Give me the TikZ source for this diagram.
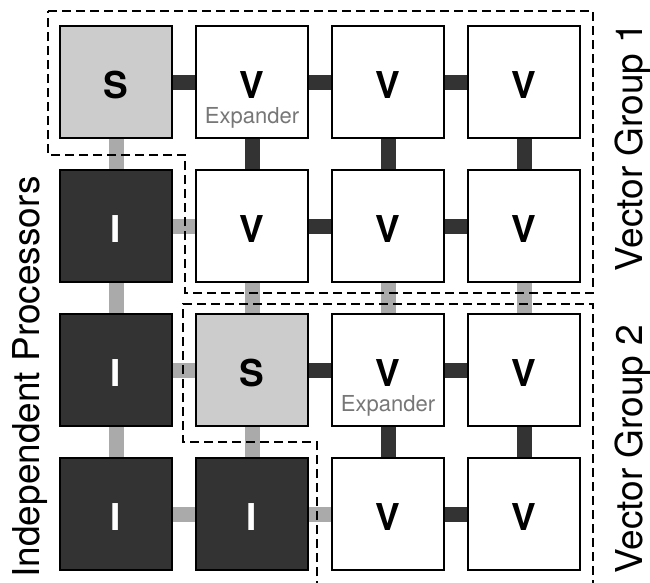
\documentclass[tikz,border=0pt]{standalone}
\usepackage{fontspec}
\setmainfont{TeX Gyre Heros}
\definecolor{darkbox}{HTML}{333333}
\definecolor{lightbox}{HTML}{CCCCCC}
\definecolor{linkgray}{HTML}{AAAAAA}
\definecolor{expgray}{HTML}{777777}
\begin{document}
\begin{tikzpicture}
	[x=1pt, y=-1pt,
	 pe/.style={draw=black, line width=1.7pt, minimum size=112.3pt, inner sep=0pt,
	   text height=32pt, text depth=0pt, font=\fontsize{37}{37}\selectfont\bfseries},
	 vec/.style={pe, fill=white},
	 sca/.style={pe, fill=lightbox},
	 ind/.style={pe, fill=darkbox, text=white},
	 dlink/.style={draw=darkbox, line width=15pt},
	 llink/.style={draw=linkgray, line width=15pt},
	 grp/.style={line width=1.9pt, dash pattern=on 9pt off 5pt},
	 lbl/.style={rotate=90, anchor=base, font=\fontsize{37}{37}\selectfont},
	 expl/.style={anchor=base, text=expgray, inner sep=0pt, font=\fontsize{22}{22}\selectfont}]
	\useasboundingbox (0,0) rectangle (650,582);
	
	% processors
	\node[sca] (s1) at (116,82) {S};
	\node[vec] (v12) at (252,82) {V};
	\node[vec] (v13) at (388,82) {V};
	\node[vec] (v14) at (524,82) {V};
	
	\node[ind] (i21) at (116,226) {I};
	\node[vec] (v22) at (252,226) {V};
	\node[vec] (v23) at (388,226) {V};
	\node[vec] (v24) at (524,226) {V};
	
	\node[ind] (i31) at (116,370) {I};
	\node[sca] (s32) at (252,370) {S};
	\node[vec] (v33) at (388,370) {V};
	\node[vec] (v34) at (524,370) {V};
	
	\node[ind] (i41) at (116,514) {I};
	\node[ind] (i42) at (252,514) {I};
	\node[vec] (v43) at (388,514) {V};
	\node[vec] (v44) at (524,514) {V};
	
	\node[expl] (e1) at (252,123) {Expander};
	\node[expl] (e2) at (388,411) {Expander};
	
	% links
	\draw[dlink] (s1) -- (v12);
	\draw[dlink] (v12) -- (v13);
	\draw[dlink] (v13) -- (v14);
	\draw[llink] (s1) -- (i21);
	\draw[dlink] (v12) -- (v22);
	\draw[dlink] (v13) -- (v23);
	\draw[dlink] (v14) -- (v24);
	
	\draw[llink] (i21) -- (v22);
	\draw[dlink] (v22) -- (v23);
	\draw[dlink] (v23) -- (v24);
	\draw[llink] (i21) -- (i31);
	\draw[llink] (v22) -- (s32);
	\draw[llink] (v23) -- (v33);
	\draw[llink] (v24) -- (v34);
	
	\draw[llink] (i31) -- (s32);
	\draw[dlink] (s32) -- (v33);
	\draw[dlink] (v33) -- (v34);
	\draw[llink] (i31) -- (i41);
	\draw[llink] (s32) -- (i42);
	\draw[dlink] (v33) -- (v43);
	\draw[dlink] (v34) -- (v44);
	
	\draw[llink] (i41) -- (i42);
	\draw[llink] (i42) -- (v43);
	\draw[dlink] (v43) -- (v44);
	
	% groups
	\draw[grp] (48,11) -- (593,11) -- (593,293) -- (185,293) -- (185,155) -- (48,155) -- cycle;
	\draw[grp] (317,590) -- (317,442) -- (183,442) -- (183,304) -- (593,304) -- (593,590);
	
	\node[lbl] (ip) at (39,377) {Independent Processors};
	\node[lbl] (g1) at (642,147) {Vector Group 1};
	\node[lbl] (g2) at (642,449) {Vector Group 2};
\end{tikzpicture}
\end{document}
